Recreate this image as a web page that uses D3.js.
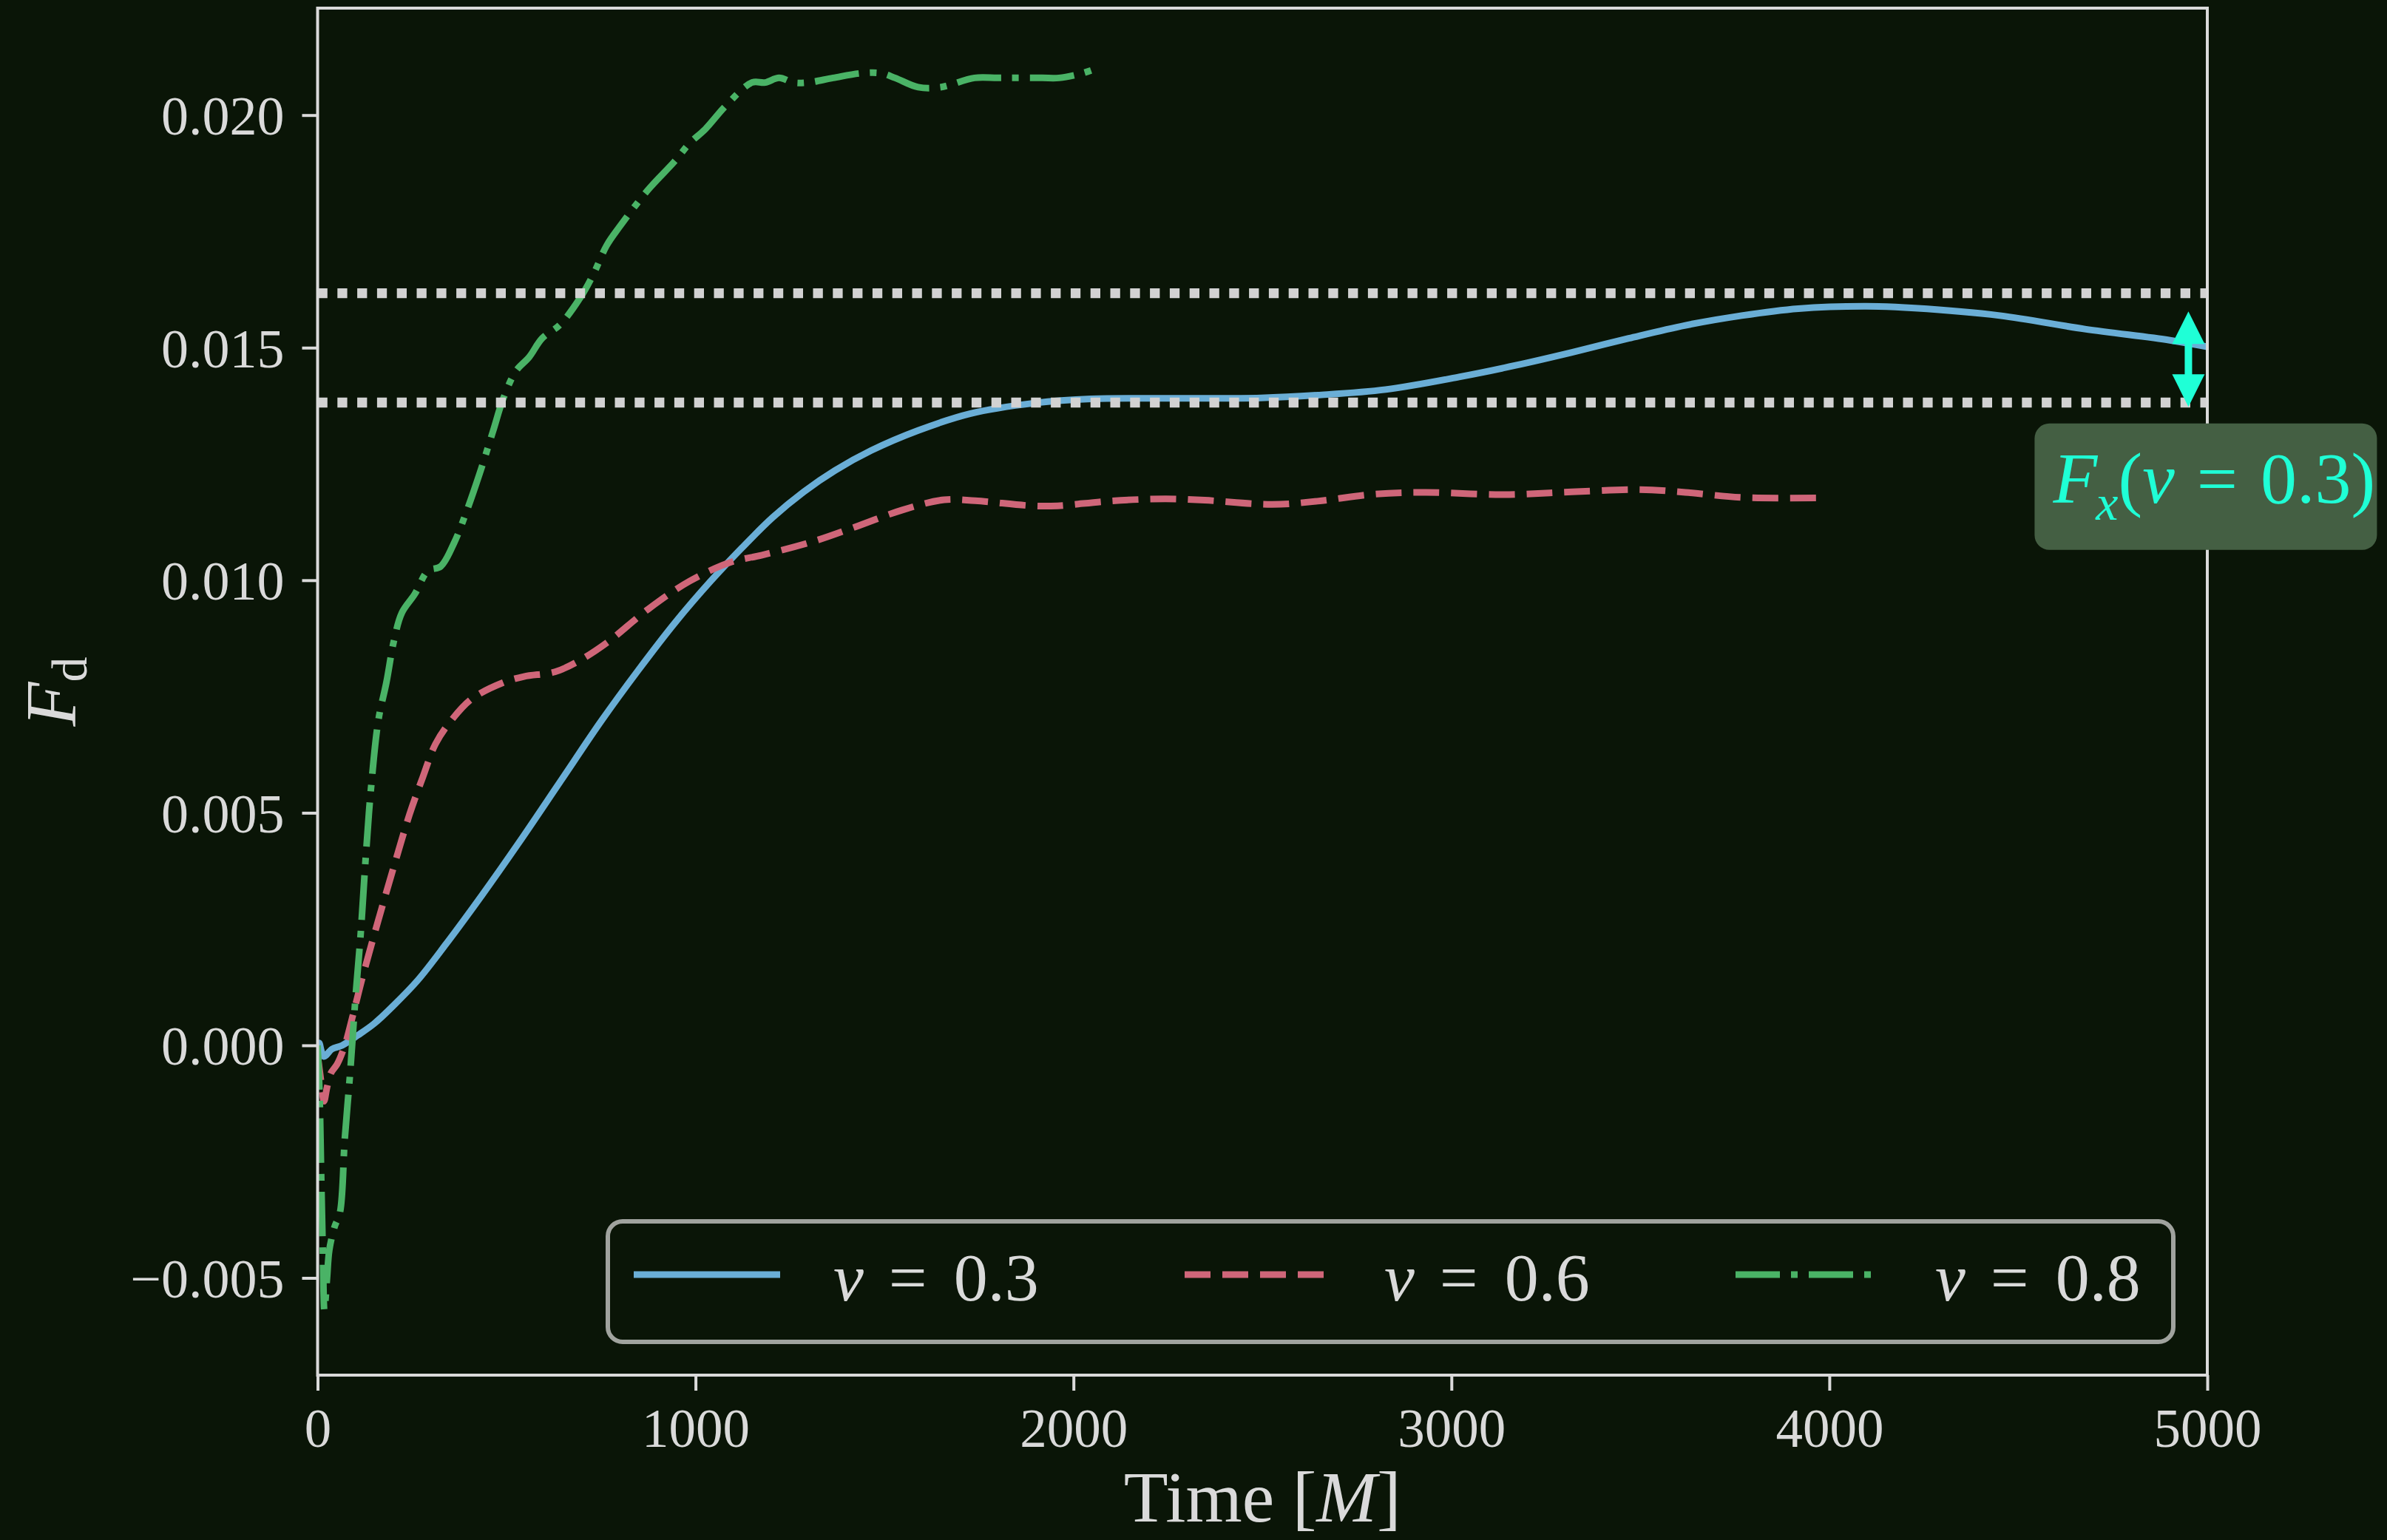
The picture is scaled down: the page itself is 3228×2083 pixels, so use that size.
<!DOCTYPE html>
<html>
<head>
<meta charset="utf-8">
<script src="https://cdn.jsdelivr.net/npm/d3@7"></script>
<style>
  body { margin: 0; background: #0a1507; }
  text { font-family: "Liberation Serif", "DejaVu Serif", serif; fill: #dadada; }
</style>
</head>
<body>
<script>
// values
const timeTicks = [0, 1000, 2000, 3000, 4000, 5000];
const forceTicks = [-0.005, 0.000, 0.005, 0.010, 0.015, 0.020];
const speedLabels = ["0.3", "0.6", "0.8"];

const timeV03 = [0, 4, 10, 17, 38, 65, 107, 150, 200, 265, 340, 436, 532, 642, 752, 848, 944, 1040, 1122, 1204, 1286, 1369, 1465, 1589, 1726, 1898, 2047, 2271, 2496, 2646, 2826, 3020, 3170, 3319, 3469, 3619, 3768, 3918, 4098, 4226, 4451, 4676, 4901, 5000];
const forceV03 = [0.0, 0.00005, -0.00012, -0.00024, -0.00008, 0.0, 0.00022, 0.00047, 0.00085, 0.0014, 0.00218, 0.00324, 0.00435, 0.00567, 0.00699, 0.00806, 0.00907, 0.00998, 0.01069, 0.01135, 0.0119, 0.01236, 0.01279, 0.01322, 0.01358, 0.01381, 0.0139, 0.01391, 0.01392, 0.01398, 0.0141, 0.01437, 0.01462, 0.0149, 0.0152, 0.01548, 0.01569, 0.01584, 0.01589, 0.01585, 0.01569, 0.0154, 0.01516, 0.01502];

const timeV06 = [0, 8, 17, 25, 35, 52, 72, 95, 120, 161, 202, 243, 279, 312, 354, 408, 491, 546, 628, 690, 766, 875, 984, 1094, 1176, 1314, 1424, 1547, 1658, 1740, 1890, 1958, 2092, 2242, 2347, 2526, 2646, 2795, 2930, 3139, 3319, 3499, 3619, 3768, 3980];
const forceV06 = [-0.0002, -0.0007, -0.0012, -0.0009, -0.0006, -0.0004, 0.0, 0.0007, 0.0015, 0.0027, 0.00385, 0.00496, 0.00578, 0.00648, 0.00699, 0.00745, 0.0078, 0.00793, 0.00803, 0.00826, 0.00866, 0.00938, 0.00998, 0.01039, 0.01054, 0.01084, 0.01115, 0.01151, 0.01173, 0.01171, 0.0116, 0.0116, 0.0117, 0.01175, 0.01172, 0.01163, 0.0117, 0.01185, 0.01189, 0.01184, 0.0119, 0.01195, 0.01189, 0.01178, 0.01177];

const timeV08 = [0, 5, 10, 14, 18, 25, 31, 45, 59, 72, 86, 100, 114, 127, 141, 161, 182, 202, 223, 257, 292, 326, 361, 395, 429, 464, 491, 525, 560, 594, 642, 697, 731, 765, 799, 875, 944, 985, 1026, 1080, 1149, 1184, 1221, 1259, 1297, 1364, 1438, 1491, 1528, 1589, 1648, 1738, 1798, 1843, 1917, 1962, 2023, 2060];
const forceV08 = [0.0, -0.001, -0.003, -0.0045, -0.0057, -0.005, -0.0044, -0.0039, -0.0036, -0.002, -0.0006, 0.001, 0.0024, 0.004, 0.0055, 0.007, 0.0078, 0.0087, 0.0093, 0.0097, 0.0102, 0.0103, 0.0108, 0.0115, 0.0123, 0.0132, 0.0139, 0.0145, 0.0148, 0.0152, 0.0155, 0.0161, 0.0166, 0.0172, 0.0176, 0.0184, 0.019, 0.0194, 0.0197, 0.0202, 0.0207, 0.0207, 0.0208, 0.0207, 0.0207, 0.0208, 0.0209, 0.0209, 0.0208, 0.0206, 0.0206, 0.0208, 0.0208, 0.0208, 0.0208, 0.0208, 0.0209, 0.021];

const refLevels = [0.01617, 0.01382];
const arrowTime = 4950;
const arrowRange = [0.01373, 0.01578];
const noteTime = 4543;
const noteForce = 0.01337;

const bg = "#0a1507";
const fg = "#dadada";
const seriesColors = ["#6aaed6", "#cf6679", "#4ab366"];
const seriesDash = [null, "35 16", "60 15 9 15"];
const lineW = 9;

const W = 3228, H = 2083;
const margin = {top: 11, right: 243, bottom: 223, left: 429.5},
    width = W - margin.left - margin.right,
    height = H - margin.top - margin.bottom;

let svg = d3.select("body")
  .append("svg")
    .attr("width", W)
    .attr("height", H)
    .style("display", "block")
    .style("background", bg);

let x = d3.scaleLinear()
    .domain([0, 5000])
    .range([margin.left, margin.left + width]);

let y = d3.scaleLinear()
    .domain([-0.00709, 0.0223])
    .range([margin.top + height, margin.top]);

svg.append("clipPath").attr("id", "plotclip")
  .append("rect")
    .attr("x", margin.left).attr("y", margin.top)
    .attr("width", width).attr("height", height);

let plot = svg.append("g").attr("clip-path", "url(#plotclip)");

let series = [
    {t: timeV03, f: forceV03},
    {t: timeV06, f: forceV06},
    {t: timeV08, f: forceV08}
];

let line = d3.line()
    .x(d => x(d[0]))
    .y(d => y(d[1]))
    .curve(d3.curveCatmullRom.alpha(0.5));

series.forEach((s, i) => {
    plot.append("path")
      .datum(d3.zip(s.t, s.f))
      .attr("d", line)
      .attr("fill", "none")
      .attr("stroke", seriesColors[i])
      .attr("stroke-width", lineW)
      .attr("stroke-dasharray", seriesDash[i])
      .attr("stroke-linejoin", "round");
});

// horizontal dotted levels
plot.selectAll(".level")
  .data(refLevels)
  .enter()
  .append("line")
    .attr("x1", x(0)).attr("x2", x(5000))
    .attr("y1", d => y(d)).attr("y2", d => y(d))
    .attr("stroke", "#d2d2d2")
    .attr("stroke-width", 13.3)
    .attr("stroke-dasharray", "13.3 13.5");

// double arrow
const arrowColor = "#1fffd6";
const headL = 44, headW = 44;
let ax = x(arrowTime), aTop = y(arrowRange[1]), aBot = y(arrowRange[0]);
plot.append("line")
    .attr("x1", ax).attr("x2", ax)
    .attr("y1", aTop + headL - 2).attr("y2", aBot - headL + 2)
    .attr("stroke", arrowColor)
    .attr("stroke-width", 10);
plot.append("path")
    .attr("d", `M${ax},${aTop} L${ax + headW/2},${aTop + headL} L${ax - headW/2},${aTop + headL} Z`)
    .attr("fill", arrowColor);
plot.append("path")
    .attr("d", `M${ax},${aBot} L${ax + headW/2},${aBot - headL} L${ax - headW/2},${aBot - headL} Z`)
    .attr("fill", arrowColor);

// axes
let xAxis = svg.append("g")
    .attr("transform", "translate(0," + (margin.top + height) + ")")
    .call(d3.axisBottom(x).tickValues(timeTicks).tickFormat(d3.format("d")).tickSize(21).tickPadding(24));
xAxis.select(".domain").remove();
xAxis.attr("font-size", 73);
xAxis.selectAll(".tick line").attr("stroke", fg).attr("stroke-width", 4);

let yAxis = svg.append("g")
    .attr("transform", "translate(" + margin.left + ",0)")
    .call(d3.axisLeft(y).tickValues(forceTicks).tickFormat(d3.format(".3f")).tickSize(21).tickPadding(24));
yAxis.select(".domain").remove();
yAxis.attr("font-size", 74);
yAxis.selectAll(".tick line").attr("stroke", fg).attr("stroke-width", 4);
yAxis.selectAll(".tick text").attr("dy", "0.35em");

svg.append("rect")
    .attr("x", margin.left).attr("y", margin.top)
    .attr("width", width).attr("height", height)
    .attr("fill", "none")
    .attr("stroke", fg)
    .attr("stroke-width", 4);

// axis labels
let xl = svg.append("text")
    .attr("x", margin.left + width / 2)
    .attr("y", 2058)
    .attr("text-anchor", "middle")
    .attr("font-size", 98);
xl.append("tspan").text("Time [");
xl.append("tspan").attr("font-style", "italic").text("M");
xl.append("tspan").text("]");

let yl = svg.append("text")
    .attr("transform", "translate(102," + (margin.top + height / 2) + ") rotate(-90)")
    .attr("text-anchor", "middle")
    .attr("font-size", 98);
yl.append("tspan").attr("font-style", "italic").text("F");
yl.append("tspan").attr("font-size", 68).attr("dy", 15).text("d");

// legend
const legW = 2117, legH = 163;
let legX = margin.left + width - 46 - legW,
    legY = margin.top + height - 45 - legH;
let legend = svg.append("g").attr("transform", "translate(" + legX + "," + legY + ")");
legend.append("rect")
    .attr("x", 0).attr("y", 0)
    .attr("width", legW).attr("height", legH)
    .attr("rx", 20)
    .attr("fill", bg)
    .attr("stroke", "#a0a39e")
    .attr("stroke-width", 6);

speedLabels.forEach((lab, i) => {
    let cx = 35 + i * 745;
    legend.append("line")
      .attr("x1", cx).attr("x2", cx + 198)
      .attr("y1", 72).attr("y2", 72)
      .attr("stroke", seriesColors[i])
      .attr("stroke-width", lineW)
      .attr("stroke-dasharray", seriesDash[i]);
    let t = legend.append("text")
      .attr("x", cx + 270)
      .attr("y", 107)
      .attr("font-size", 92);
    t.append("tspan").attr("font-style", "italic").text("v");
    t.append("tspan").attr("dx", 34).text("=");
    t.append("tspan").attr("dx", 36).text(lab);
});

// annotation box
let nx = x(noteTime), ny = y(noteForce);
svg.append("rect")
    .attr("x", nx).attr("y", ny)
    .attr("width", 463).attr("height", 171)
    .attr("rx", 20)
    .attr("fill", "#445f43");
let note = svg.append("text")
    .attr("x", nx + 25)
    .attr("y", ny + 107)
    .attr("font-size", 98)
    .style("fill", arrowColor);
note.append("tspan").attr("font-style", "italic").text("F");
note.append("tspan").attr("font-style", "italic").attr("font-size", 68).attr("dx", -2).attr("dy", 23).text("x");
note.append("tspan").attr("dy", -23).text("(");
note.append("tspan").attr("font-style", "italic").text("v");
note.append("tspan").attr("dx", 30).text("=");
note.append("tspan").attr("dx", 31).text("0.3)");
</script>
</body>
</html>
